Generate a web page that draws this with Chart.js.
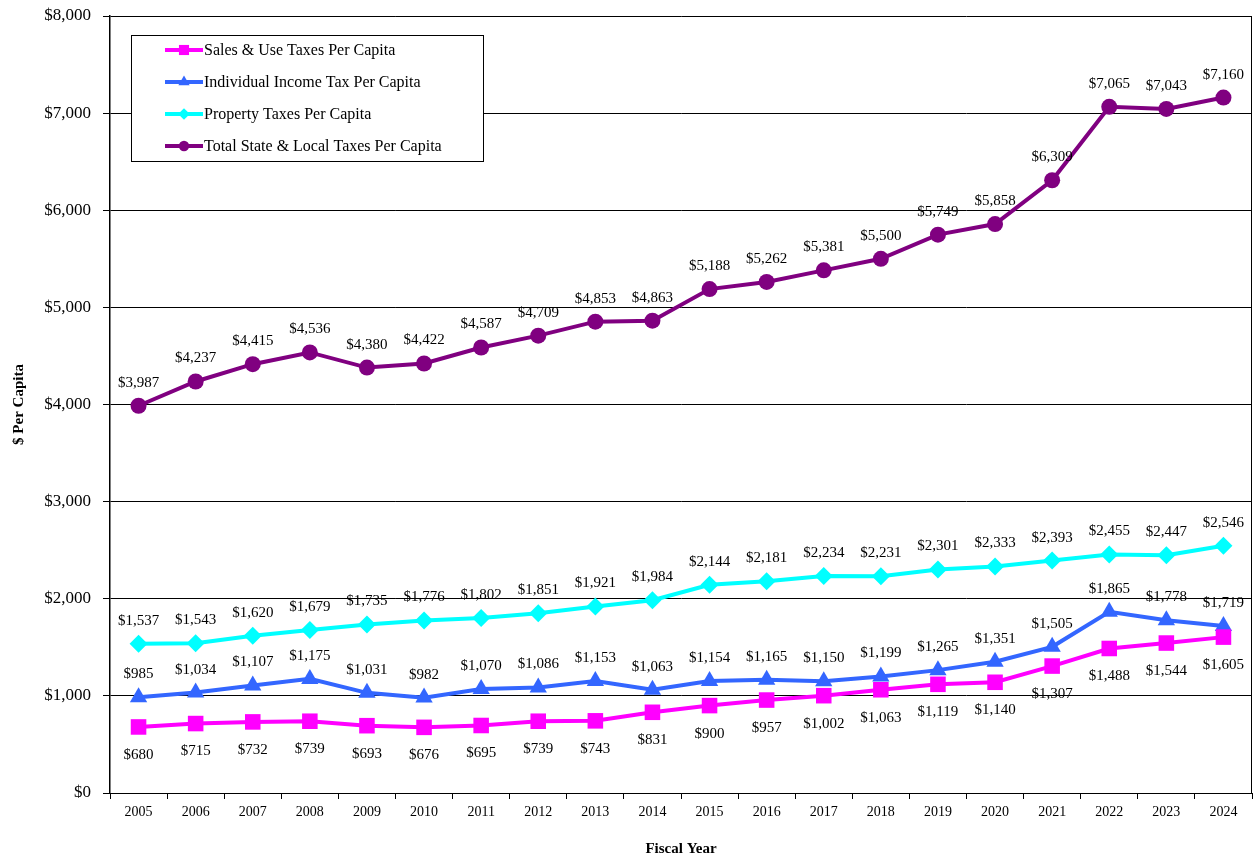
<!DOCTYPE html>
<html>
<head>
<meta charset="utf-8">
<script src="https://cdn.jsdelivr.net/npm/chart.js@4/dist/chart.umd.min.js"></script>
<style>
  html, body { margin: 0; padding: 0; background: #fff; }
  #wrap { width: 1254px; height: 861px; position: relative; }
</style>
</head>
<body>
<div id="wrap"><canvas id="taxChart"></canvas></div>
<script>
// Datos del gráfico
const years = ['2005','2006','2007','2008','2009','2010','2011','2012','2013','2014',
               '2015','2016','2017','2018','2019','2020','2021','2022','2023','2024'];
const salesTax = [680,715,732,739,693,676,695,739,743,831,900,957,1002,1063,1119,1140,1307,1488,1544,1605];
const incomeTax = [985,1034,1107,1175,1031,982,1070,1086,1153,1063,1154,1165,1150,1199,1265,1351,1505,1865,1778,1719];
const propertyTax = [1537,1543,1620,1679,1735,1776,1802,1851,1921,1984,2144,2181,2234,2231,2301,2333,2393,2455,2447,2546];
const totalTax = [3987,4237,4415,4536,4380,4422,4587,4709,4853,4863,5188,5262,5381,5500,5749,5858,6309,7065,7043,7160];
const seriesNames = ['Sales & Use Taxes Per Capita', 'Individual Income Tax Per Capita',
                     'Property Taxes Per Capita', 'Total State & Local Taxes Per Capita'];

const serif = '"Liberation Serif", "Times New Roman", serif';

function money(v) {
  return '$' + v.toLocaleString('en-US');
}

// Etiquetas de valor encima / debajo de cada punto
const valueLabels = {
  id: 'valueLabels',
  afterDatasetsDraw(chart) {
    const ctx = chart.ctx;
    ctx.save();
    ctx.font = '15px ' + serif;
    ctx.fillStyle = '#000';
    ctx.textAlign = 'center';
    ctx.textBaseline = 'middle';
    chart.data.datasets.forEach((ds, i) => {
      const meta = chart.getDatasetMeta(i);
      meta.data.forEach((pt, j) => {
        const dy = ds.labelBelow ? 28 : -23;
        ctx.fillText(money(ds.data[j]), pt.x, pt.y + dy);
      });
    });
    ctx.restore();
  }
};

// Leyenda dentro del área del gráfico, con marco
const boxLegend = {
  id: 'boxLegend',
  afterDraw(chart) {
    const ctx = chart.ctx;
    const area = chart.chartArea;
    const x0 = area.left + 21, y0 = area.top + 19, w = 352, h = 126;
    ctx.save();
    ctx.fillStyle = '#fff';
    ctx.fillRect(x0, y0, w, h);
    ctx.strokeStyle = '#000';
    ctx.lineWidth = 1;
    ctx.strokeRect(x0 + 0.5, y0 + 0.5, w, h);
    ctx.font = '16px ' + serif;
    ctx.textBaseline = 'middle';
    chart.data.datasets.forEach((ds, i) => {
      const y = y0 + 15 + i * 32;
      ctx.strokeStyle = ds.borderColor;
      ctx.lineWidth = 4;
      ctx.beginPath();
      ctx.moveTo(x0 + 34, y);
      ctx.lineTo(x0 + 72, y);
      ctx.stroke();
      ctx.fillStyle = ds.borderColor;
      Chart.helpers.drawPoint(ctx, { pointStyle: ds.pointStyle, radius: ds.pointRadius * 0.65, borderWidth: 0 }, x0 + 53, y);
      ctx.fillStyle = '#000';
      ctx.fillText(ds.label, x0 + 73, y + 1);
    });
    // borde derecho del área
    ctx.strokeStyle = '#000';
    ctx.lineWidth = 1;
    ctx.beginPath();
    ctx.moveTo(area.right - 0.5, area.top);
    ctx.lineTo(area.right - 0.5, area.bottom);
    ctx.stroke();
    ctx.restore();
  }
};

function series(label, data, color, style, radius, below) {
  return {
    label: label,
    data: data,
    borderColor: color,
    backgroundColor: color,
    pointBackgroundColor: color,
    pointBorderColor: color,
    pointBorderWidth: 0,
    pointStyle: style,
    pointRadius: radius,
    pointHoverRadius: radius,
    borderWidth: 4,
    tension: 0,
    fill: false,
    labelBelow: below
  };
}

new Chart(document.getElementById('taxChart'), {
  type: 'line',
  data: {
    labels: years,
    datasets: [
      series(seriesNames[0], salesTax, '#FF00FF', 'rect', 11, true),
      series(seriesNames[1], incomeTax, '#3366FF', 'triangle', 10, false),
      series(seriesNames[2], propertyTax, '#00FFFF', 'rectRot', 9, false),
      series(seriesNames[3], totalTax, '#800080', 'circle', 8, false)
    ]
  },
  options: {
    responsive: true,
    maintainAspectRatio: false,
    animation: false,
    layout: { autoPadding: false, padding: { top: 16, right: 2, left: 0, bottom: 0 } },
    plugins: {
      legend: { display: false },
      tooltip: { enabled: false }
    },
    scales: {
      x: {
        offset: true,
        grid: {
          offset: true,
          drawOnChartArea: false,
          color: '#000',
          tickLength: 6
        },
        border: { color: '#000', width: 1 },
        ticks: { color: '#000', font: { family: serif, size: 14 }, padding: 5, maxRotation: 0 },
        title: {
          display: true,
          text: 'Fiscal Year',
          color: '#000',
          font: { family: serif, size: 15, weight: 'bold' },
          padding: { top: 0, bottom: 3 }
        },
        afterFit(scale) {
          scale.height = 68;
          scale.paddingLeft = 0;
          scale.paddingRight = 0;
        }
      },
      y: {
        min: 0,
        max: 8000,
        ticks: {
          stepSize: 1000,
          color: '#000',
          padding: 12,
          font: { family: serif, size: 17 },
          callback: (v) => money(v)
        },
        grid: { color: '#000', lineWidth: 1, tickLength: 7 },
        border: { color: '#000', width: 1.5 },
        title: {
          display: true,
          text: '$ Per Capita',
          color: '#000',
          font: { family: serif, size: 15, weight: 'bold' },
          padding: { top: 10, bottom: 0 }
        },
        afterFit(scale) {
          scale.width = 110;
          scale.paddingTop = 0;
          scale.paddingBottom = 0;
        }
      }
    }
  },
  plugins: [valueLabels, boxLegend]
});
</script>
</body>
</html>
